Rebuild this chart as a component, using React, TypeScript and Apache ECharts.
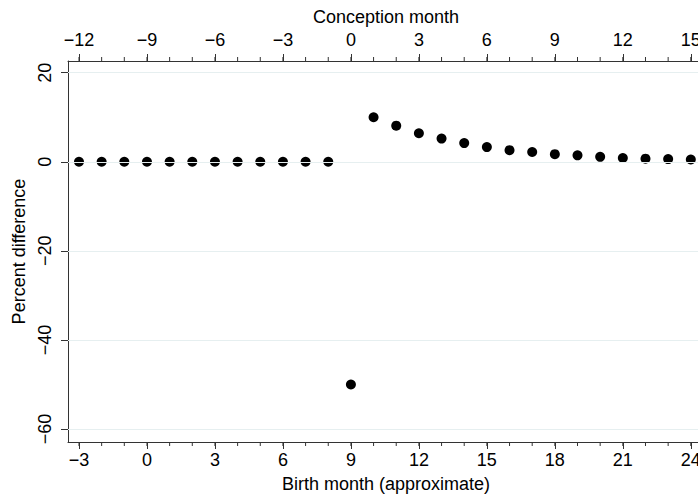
import React, { useEffect, useRef } from "react";
import * as echarts from "echarts";

// Conception month relative to the reform, and the estimated percent difference
const conceptionMonths = [
  -12, -11, -10, -9, -8, -7, -6, -5, -4, -3, -2, -1,
  0, 1, 2, 3, 4, 5, 6, 7, 8, 9, 10, 11, 12, 13, 14, 15,
];
const percentDifference = [
  0, 0, 0, 0, 0, 0, 0, 0, 0, 0, 0, 0,
  -50, 10, 8.1, 6.4, 5.2, 4.2, 3.3, 2.6, 2.2, 1.7, 1.45, 1.1, 0.85, 0.7, 0.6, 0.5,
];

// Birth month is roughly nine months after conception
const birthOffset = 9;

const conceptionTicks = [-12, -9, -6, -3, 0, 3, 6, 9, 12, 15];
const birthTicks = [-3, 0, 3, 6, 9, 12, 15, 18, 21, 24];
const percentTicks = [-60, -40, -20, 0, 20];

const conceptionMin = -12.485;
const conceptionMax = 15.582;
const percentMin = -62.91;
const percentMax = 22.62;

const FONT = '"Liberation Sans", Arial, Helvetica, sans-serif';
const AXIS_COLOR = "#333";
const GRID_COLOR = "#e6eff0";

const integerRange = (a: number, b: number) => {
  const out: number[] = [];
  for (let v = a; v <= b; v++) out.push(v);
  return out;
};

const minus = (v: number) => String(v).replace("-", "\u2212");

export default function App() {
  const ref = useRef<HTMLDivElement>(null);

  useEffect(() => {
    if (!ref.current) return;
    const chart = echarts.init(ref.current, undefined, { renderer: "svg" });

    const labelStyle = { fontFamily: FONT, fontSize: 18, color: "#000" };
    const lineStyle = { color: AXIS_COLOR, width: 1 };

    const majorX = (
      position: "top" | "bottom",
      offset: number,
      ticks: number[],
      name: string,
      margin: number,
      nameGap: number
    ) => ({
      type: "value" as const,
      position,
      min: conceptionMin + offset,
      max: conceptionMax + offset,
      name,
      nameLocation: "middle" as const,
      nameGap,
      nameTextStyle: labelStyle,
      axisLine: { show: true, onZero: false, lineStyle },
      axisTick: { show: true, length: 7, customValues: ticks, lineStyle },
      axisLabel: { ...labelStyle, margin, customValues: ticks, formatter: minus },
      splitLine: { show: false },
    });

    // Short ticks at every month on both horizontal axes
    const minorTickRender = (_params: any, api: any) => {
      const x = api.value(0);
      const top = api.coord([x, percentMax]);
      const bottom = api.coord([x, percentMin]);
      const style = { stroke: AXIS_COLOR, lineWidth: 1, fill: null };
      return {
        type: "group",
        children: [
          { type: "line", shape: { x1: top[0], y1: top[1], x2: top[0], y2: top[1] - 4 }, style },
          { type: "line", shape: { x1: bottom[0], y1: bottom[1], x2: bottom[0], y2: bottom[1] + 4 }, style },
        ],
      };
    };

    chart.setOption({
      animation: false,
      backgroundColor: "#fff",
      grid: {
        left: 68,
        top: 61,
        width: 636,
        height: 381,
        containLabel: false,
        outerBoundsMode: "none",
      },
      xAxis: [
        majorX("top", 0, conceptionTicks, "Conception month", 12, 33),
        majorX("bottom", birthOffset, birthTicks, "Birth month (approximate)", 9, 33),
      ],
      yAxis: {
        type: "value",
        min: percentMin,
        max: percentMax,
        name: "Percent difference",
        nameLocation: "middle",
        nameGap: 34,
        nameRotate: 90,
        nameTextStyle: labelStyle,
        axisLine: { show: true, onZero: false, lineStyle },
        axisTick: { show: true, length: 7, customValues: percentTicks, lineStyle },
        axisLabel: {
          ...labelStyle,
          rotate: 90,
          margin: 14,
          customValues: percentTicks,
          formatter: minus,
        },
        splitLine: { show: false },
      },
      series: [
        {
          type: "line",
          xAxisIndex: 0,
          data: [],
          z: 1,
          silent: true,
          markLine: {
            silent: true,
            symbol: ["none", "none"],
            label: { show: false },
            lineStyle: { color: GRID_COLOR, width: 1.2, type: "solid" },
            data: percentTicks.map((v) => ({ yAxis: v })),
          },
        },
        {
          type: "custom",
          xAxisIndex: 0,
          silent: true,
          clip: false,
          z: 2,
          renderItem: minorTickRender,
          encode: { x: 0, y: 1 },
          data: integerRange(-12, 15).map((m) => [m, 0]),
        },
        {
          type: "scatter",
          xAxisIndex: 0,
          z: 3,
          symbol: "circle",
          symbolSize: 10,
          itemStyle: { color: "#000", opacity: 1 },
          data: conceptionMonths.map((m, i) => [m, percentDifference[i]]),
        },
      ],
    });

    return () => chart.dispose();
  }, []);

  return (
    <div
      style={{
        position: "fixed",
        left: 0,
        top: 0,
        width: 698,
        height: 495,
        overflow: "hidden",
        background: "#fff",
      }}
    >
      <div ref={ref} style={{ width: 760, height: 495 }} />
    </div>
  );
}
